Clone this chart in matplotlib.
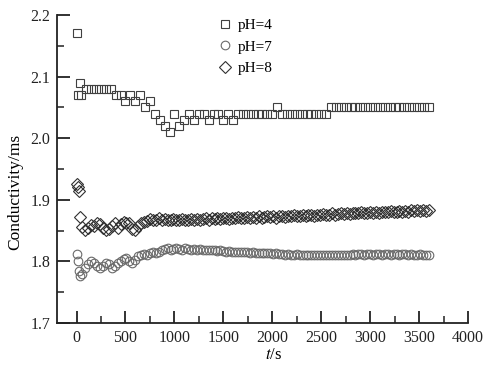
import numpy as np
import matplotlib
matplotlib.use("Agg")
import matplotlib.pyplot as plt
from matplotlib.ticker import MultipleLocator

plt.rcParams['font.family'] = ['Liberation Serif', 'DejaVu Serif']
plt.rcParams['mathtext.fontset'] = 'stix'

# ---- data ----
t_ph4 = [0, 15, 30, 50] + list(range(100, 3601, 50))
ph4 = ([2.17, 2.07, 2.09, 2.07]
       + [2.08] * 6
       + [2.07, 2.07, 2.06, 2.07, 2.06, 2.07, 2.05, 2.06, 2.04, 2.03, 2.02, 2.01]
       + [2.04, 2.02, 2.03, 2.04, 2.03, 2.04, 2.04, 2.03, 2.04, 2.04, 2.03, 2.04, 2.03]
       + [2.04, 2.04, 2.04, 2.04, 2.04, 2.04, 2.04, 2.04, 2.05, 2.04,
          2.04, 2.04, 2.04, 2.04, 2.04, 2.04, 2.04, 2.04, 2.04]
       + [2.05] * 21)

t_78 = [0, 10, 20, 30] + list(range(60, 3601, 30))

ph7 = [1.812, 1.801, 1.785, 1.776,
       1.779, 1.790, 1.796, 1.800, 1.797, 1.792, 1.789, 1.793, 1.797, 1.795,
       1.790, 1.793, 1.797, 1.801, 1.804, 1.805, 1.800, 1.798, 1.803, 1.808,
       1.811, 1.812,
       1.810, 1.813, 1.815, 1.814, 1.816, 1.818, 1.820, 1.821, 1.819, 1.820,
       1.821, 1.820, 1.819, 1.821, 1.820, 1.819,
       1.820, 1.819, 1.820, 1.819, 1.818, 1.819, 1.818, 1.818, 1.817, 1.818,
       1.817, 1.816, 1.817, 1.816, 1.816, 1.815, 1.816, 1.815, 1.815, 1.814,
       1.815, 1.814, 1.814, 1.813, 1.814, 1.813, 1.813, 1.812, 1.813, 1.812,
       1.812, 1.811, 1.812, 1.811, 1.811, 1.812, 1.811, 1.811, 1.810, 1.811,
       1.811, 1.810, 1.811, 1.810, 1.811, 1.810, 1.811, 1.811, 1.810, 1.811,
       1.811, 1.810, 1.811, 1.811, 1.812, 1.811, 1.812, 1.812, 1.811, 1.812,
       1.812, 1.811, 1.812, 1.812, 1.811, 1.812, 1.812, 1.811, 1.812, 1.812,
       1.811, 1.812, 1.812, 1.811, 1.812, 1.811, 1.811, 1.812, 1.811, 1.811,
       1.811]

ph8 = [1.925, 1.920, 1.915, 1.872,
       1.856, 1.851, 1.855, 1.859, 1.858, 1.862, 1.860, 1.854, 1.851, 1.853,
       1.858, 1.862, 1.855, 1.860, 1.864, 1.863, 1.862, 1.853, 1.851, 1.857,
       1.862, 1.864,
       1.866, 1.869, 1.867, 1.868, 1.870, 1.867, 1.869, 1.868, 1.867, 1.869,
       1.868, 1.867, 1.869, 1.868, 1.867, 1.869,
       1.868, 1.869, 1.867, 1.869, 1.870, 1.868, 1.870, 1.869, 1.871, 1.869,
       1.870, 1.871, 1.869, 1.871, 1.870, 1.872, 1.870, 1.871, 1.872, 1.870,
       1.872, 1.871, 1.873, 1.871, 1.872, 1.874, 1.872, 1.873, 1.871, 1.873,
       1.874, 1.872, 1.874, 1.873, 1.875, 1.873, 1.874, 1.876, 1.874, 1.875,
       1.876, 1.874, 1.876, 1.875, 1.877, 1.875, 1.876, 1.878, 1.876, 1.877,
       1.878, 1.877, 1.879, 1.877, 1.878, 1.879, 1.878, 1.880, 1.878, 1.879,
       1.880, 1.879, 1.881, 1.879, 1.880, 1.881, 1.880, 1.882, 1.880, 1.881,
       1.882, 1.881, 1.882, 1.881, 1.883, 1.882, 1.883, 1.882, 1.883, 1.882,
       1.883]

labels = ["pH=4", "pH=7", "pH=8"]
x_ticks = [0, 500, 1000, 1500, 2000, 2500, 3000, 3500, 4000]
y_ticks = [1.7, 1.8, 1.9, 2.0, 2.1, 2.2]

# ---- figure ----
fig = plt.figure(figsize=(4.89, 3.68), dpi=100)
ax = fig.add_axes([57/489, 1-323/368, (468-57)/489, (323-15)/368])

ax.plot(t_ph4, ph4, ls='none', marker='s', ms=6.2, mfc='none', mec='#404040',
        mew=0.8, label=labels[0])
ax.plot(t_78, ph7, ls='none', marker='o', ms=6.2, mfc='none', mec='#6a6a6a',
        mew=0.8, label=labels[1])
ax.plot(t_78, ph8, ls='none', marker='D', ms=5.8, mfc='none', mec='#303030',
        mew=0.8, label=labels[2])

ax.set_xlim(-200, 4000)
ax.set_ylim(1.7, 2.2)
ax.set_xticks(x_ticks)
ax.set_yticks(y_ticks)
ax.set_yticklabels([f"{v:.1f}" for v in y_ticks])
ax.xaxis.set_minor_locator(MultipleLocator(250))
ax.yaxis.set_minor_locator(MultipleLocator(0.05))

for s in ['top', 'right']:
    ax.spines[s].set_visible(False)
for s in ['left', 'bottom']:
    ax.spines[s].set_linewidth(1.3)
    ax.spines[s].set_color('#222222')

ax.tick_params(which='major', direction='in', length=9, width=1.3,
               labelsize=11.5, colors='#222222', pad=5)
ax.tick_params(which='minor', direction='in', length=5, width=1.1,
               colors='#222222')

ax.set_xlabel(r"$t$/s", fontsize=12)
ax.xaxis.set_label_coords(0.528, -0.078)
ax.set_ylabel("Conductivity/ms", fontsize=12.5)
ax.yaxis.set_label_coords(-0.081, 0.425)

leg = ax.legend(loc='upper left', bbox_to_anchor=(0.375, 1.008), frameon=False,
                fontsize=11, handletextpad=0.35, labelspacing=0.5,
                handlelength=1.0, borderaxespad=0)

fig.savefig("out.png", dpi=100)
